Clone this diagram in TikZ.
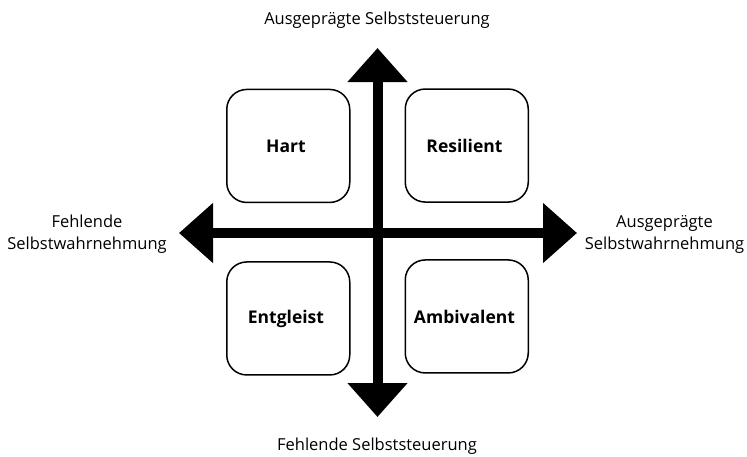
\documentclass[tikz,border=0pt]{standalone}
\usepackage{fontspec}
\setmainfont{Open Sans}
\usetikzlibrary{matrix,positioning,arrows.meta}
\tikzset{
quadmat/.style={
  matrix of nodes,
  nodes in empty cells,
  column sep=54pt,
  row sep=56pt,
  nodes={rectangle,draw=black,line width=1.5pt,rounded corners=20pt,
    minimum width=123pt,minimum height=113pt,align=center,
    font=\bfseries\fontsize{17.5}{20}\selectfont}
  }
}
\tikzset{
  axis/.style={line width=10pt,
    {Triangle[length=34pt,width=58pt]}-{Triangle[length=34pt,width=58pt]}},
  lbl/.style={align=center,font=\fontsize{16.5}{22}\selectfont}
}
\begin{document}
\begin{tikzpicture}[x=1pt,y=-1pt]
\useasboundingbox (0,0) rectangle (747,456);

\matrix[quadmat] at (377.5,232) (mat)
{
  Hart & Resilient \\
  Entgleist & Ambivalent \\
};

% labels at the axis ends
\node[lbl] (top) at (377,20) {Ausgeprägte Selbststeuerung};
\node[lbl] (bottom) at (377,446) {Fehlende Selbststeuerung};
\node[lbl] (left) at (87,234) {Fehlende\\Selbstwahrnehmung};
\node[lbl] (right) at (664.5,234) {Ausgeprägte\\Selbstwahrnehmung};

\coordinate (n) at (377.5,48);
\coordinate (s) at (377.5,417);
\coordinate (w) at (179,233);
\coordinate (e) at (577,233);

\draw[axis] (s) -- (n);
\draw[axis] (w) -- (e);
\end{tikzpicture}
\end{document}
